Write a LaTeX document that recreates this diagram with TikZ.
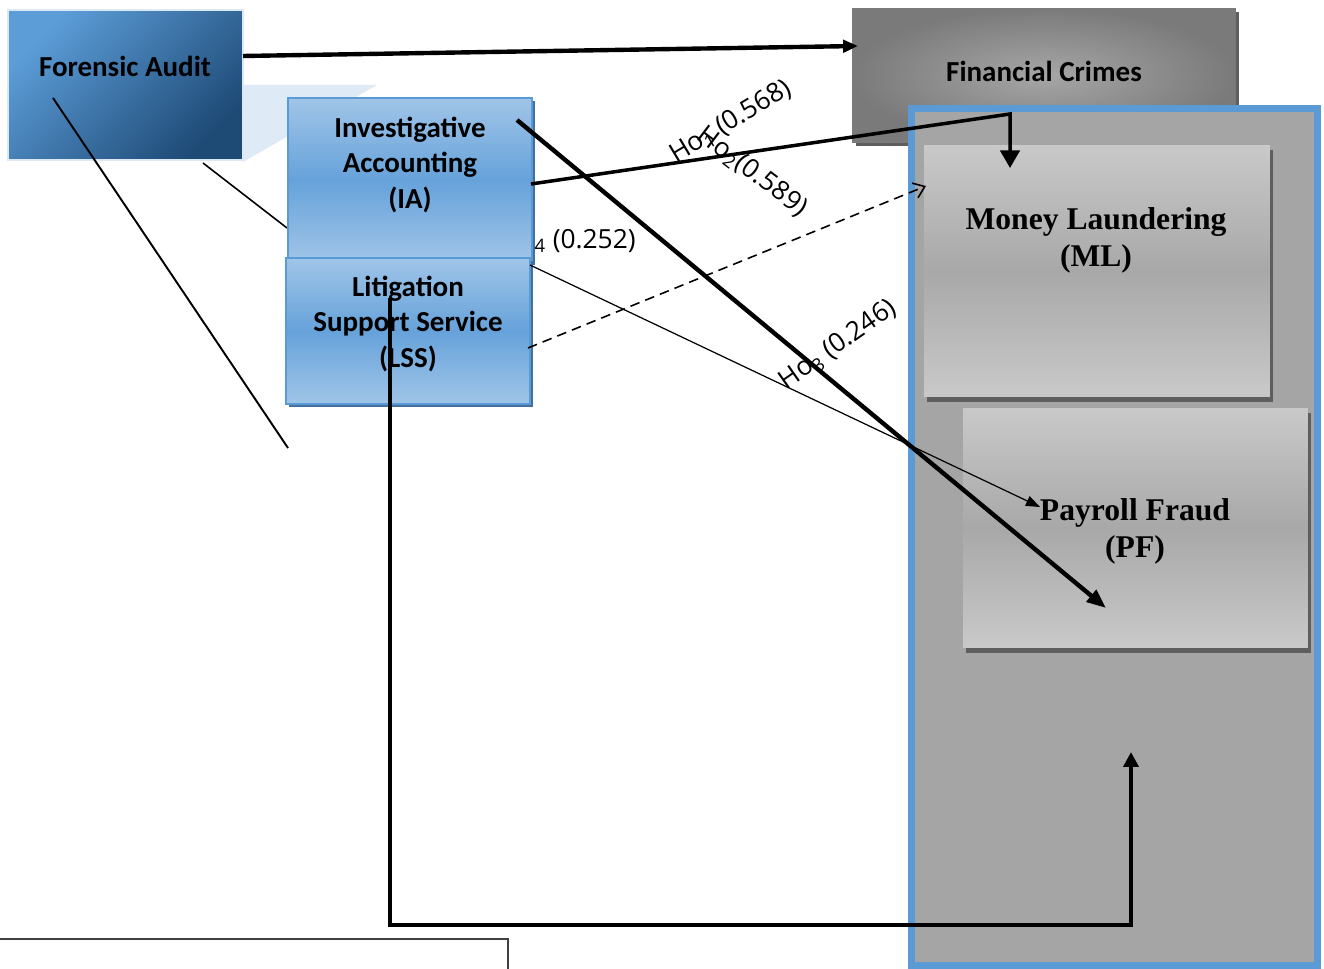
\documentclass[tikz,border=0pt]{standalone}
\usepackage{fontspec}
\setmainfont{Liberation Serif}
\newfontfamily\calfont{Carlito}
\newfontfamily\labfont{Open Sans}
\usetikzlibrary{arrows.meta,shadows}
\definecolor{faLight}{HTML}{5C9DD8}
\definecolor{faDark}{HTML}{1E4A76}
\definecolor{faEdge}{HTML}{DCE9F5}
\definecolor{bxLight}{HTML}{A0C5E8}
\definecolor{bxMid}{HTML}{66A2DA}
\definecolor{bxEdge}{HTML}{5B9BD5}
\definecolor{bxShadow}{HTML}{41719C}
\definecolor{fcOut}{HTML}{7A7A7A}
\definecolor{fcIn}{HTML}{A6A6A6}
\definecolor{contBlue}{HTML}{5B9BD5}
\definecolor{contFill}{HTML}{A5A5A5}
\definecolor{gLight}{HTML}{C9C9C9}
\definecolor{gMid}{HTML}{A8A8A8}
\definecolor{gShadow}{HTML}{5E5E5E}
\definecolor{paleBlue}{HTML}{DEEBF7}
\begin{document}
\begin{tikzpicture}[x=0.02cm,y=-0.02cm,
  fabox/.style={rectangle, inner sep=0pt, minimum width=4.7cm, minimum height=3cm,
    draw=faEdge, line width=0.8pt, top color=faLight, bottom color=faDark, shading angle=45},
  bluebox/.style={rectangle, inner sep=0pt, minimum width=4.88cm,
    draw=bxEdge, line width=0.8pt, top color=bxLight, bottom color=bxLight, middle color=bxMid,
    drop shadow={shadow xshift=1.6pt, shadow yshift=-1.6pt, fill=bxShadow, opacity=1}},
  fcbox/.style={rectangle, inner sep=0pt, minimum width=7.68cm, minimum height=2.7cm,
    inner color=fcIn, outer color=fcOut,
    drop shadow={shadow xshift=2pt, shadow yshift=-2pt, fill=gShadow, opacity=1}},
  graybox/.style={rectangle, inner sep=0pt, top color=gLight, bottom color=gLight, middle color=gMid,
    drop shadow={shadow xshift=1.8pt, shadow yshift=-2.8pt, fill=gShadow, opacity=1}},
  container/.style={rectangle, inner sep=0pt, draw=contBlue, line width=4pt, fill=contFill,
    minimum width=8.14cm, minimum height=17.16cm},
  satxt/.style={align=center, inner sep=0pt, text=black, font=\calfont\bfseries\fontsize{16.5}{20.4}\selectfont},
  sftxt/.style={align=center, inner sep=0pt, text=black, font=\bfseries\fontsize{18}{21}\selectfont},
  lab/.style={inner sep=0pt, text=black, font=\labfont\fontsize{15}{17}\selectfont},
  thk/.style={line width=2.5pt},
  mdl/.style={line width=2pt},
  thn/.style={line width=1.1pt},
  hair/.style={line width=0.7pt},
  arrA/.style={-{Triangle[length=8.5pt,width=7pt]}},
  arrB/.style={-{Triangle[length=10pt,width=11pt]}},
  arrC/.style={-{Triangle[length=11pt,width=8.5pt]}},
  arrD/.style={-{Triangle[length=8pt,width=6pt]}},
  arrE/.style={-{Triangle[length=8.5pt,width=8.5pt]}},
  openarr/.style={-{Straight Barb[length=6pt,width=9pt]}}
]
\useasboundingbox (0,0) rectangle (1324,969);

% pale wedge behind forensic audit
\fill[paleBlue] (243,85) -- (377,85) -- (243,162) -- cycle;

% Forensic Audit
\node[fabox] (FA) at (125.5,85) {};
\node[satxt] (FAt) at (125,66) {Forensic Audit};

% thin line to IA (under IA box)
\coordinate (FAlow) at (203,163);
\coordinate (IAleft) at (287,228);
\draw[line width=0.9pt] (FAlow) -- (IAleft);

% Ho4 label (partly hidden by IA box)
\node[lab, anchor=east] (h4) at (636,241) {Ho\textsubscript{4} (0.252)};

% Financial Crimes
\node[fcbox] (FC) at (1044,75.5) {};
\node[satxt] (FCt) at (1044,71) {Financial Crimes};

% container
\node[container] (CT) at (1114.5,537) {};

% Money Laundering
\node[graybox, minimum width=6.92cm, minimum height=5.04cm] (ML) at (1097,271) {};
\node[sftxt] (MLt) at (1096,240) {Money Laundering\\(ML)};

% Payroll Fraud
\node[graybox, minimum width=6.9cm, minimum height=4.8cm] (PF) at (1135.5,528) {};
\node[sftxt] (PFt) at (1135,531) {Payroll Fraud\\(PF)};

% IA and LSS boxes
\node[bluebox, minimum height=3.28cm] (IA) at (410,180) {};
\node[satxt] (IAt) at (410,165) {Investigative\\Accounting\\(IA)};
\node[bluebox, minimum height=2.92cm] (LSS) at (408,331) {};
\node[satxt] (LSSt) at (408,324) {Litigation\\Support Service\\(LSS)};

% bottom-left open frame line
\coordinate (frA) at (0,939);
\coordinate (frB) at (508,939);
\coordinate (frC) at (508,969);
\draw[line width=0.8pt, draw=black!75] (frA) -- (frB) -- (frC);

% connectors
\coordinate (FAout) at (243,56);
\coordinate (FCin) at (858,46);
\draw[thk, arrA] (FAout) -- (FCin);

\coordinate (FAin) at (53,98);
\coordinate (FAend) at (288,448);
\draw[thn] (FAin) -- (FAend);

\coordinate (IAout) at (531,184);
\coordinate (bendML) at (1010,114);
\coordinate (MLin) at (1010,168);
\draw[mdl, arrB] (IAout) -- (bendML) -- (MLin);

\coordinate (IAin) at (517,120);
\coordinate (PFin) at (1106,608);
\draw[thk, arrC] (IAin) -- (PFin);

\coordinate (LSSout) at (528,348);
\coordinate (MLedge) at (926,186);
\draw[line width=0.9pt, dash pattern=on 5.5pt off 3.5pt, openarr] (LSSout) -- (MLedge);

\coordinate (LSScorner) at (530,265);
\coordinate (PFtext) at (1040,507);
\draw[hair, arrD] (LSScorner) -- (PFtext);

\coordinate (LSSin) at (390,298);
\coordinate (botL) at (390,925);
\coordinate (botR) at (1131,925);
\coordinate (PFbelow) at (1131,752);
\draw[thk, arrE] (LSSin) -- (botL) -- (botR) -- (PFbelow);

% labels
\node[lab, rotate=31] (h1) at (731,122) {Ho\textsubscript{1} (0.568)};
\node[lab, rotate=-37] (h2) at (752,172) {Ho\textsubscript{2}(0.589)};
\node[lab, rotate=35] (h3) at (838,345) {Ho\textsubscript{3} (0.246)};
\end{tikzpicture}
\end{document}
